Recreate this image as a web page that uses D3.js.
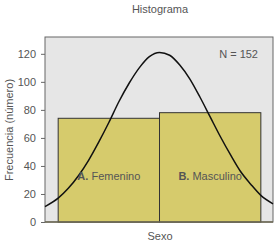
<!DOCTYPE html>
<html>
<head>
<meta charset="utf-8">
<script src="https://cdn.jsdelivr.net/npm/d3@7"></script>
<style>
  body { margin: 0; background: #fff; }
  svg text { font-family: "Liberation Sans Narrow", "Liberation Sans", Arial, sans-serif; fill: #555; }
</style>
</head>
<body>
<div id="chart"></div>
<script>
// Bars: frequency by sex
const categories = ['Femenino', 'Masculino'];
const prefixes = ['A.', 'B.'];
const codes = [1, 2];
const counts = [74, 78];
const totalN = 152;

// Normal curve (x = code, y = frequency)
const curveX = [0.37, 0.5, 0.6, 0.7, 0.8, 0.9, 1.0, 1.1, 1.2, 1.3, 1.4, 1.5, 1.6, 1.7, 1.8, 1.9, 2.0, 2.1, 2.2, 2.3, 2.4, 2.5, 2.62];
const curveY = [11, 17, 24, 33, 44, 57, 71, 86, 99, 110, 118, 121, 119, 112, 102, 89, 75, 61, 48, 36, 27, 19, 13];

const yTicks = [0, 20, 40, 60, 80, 100, 120];

const width = 275, height = 246;
const margin = { top: 37, right: 2, bottom: 24, left: 45 };

const svg = d3.select('#chart').append('svg')
  .attr('width', width)
  .attr('height', height);

const x = d3.scaleLinear().domain([0.37, 2.62]).range([margin.left, width - margin.right]);
const y = d3.scaleLinear().domain([0, 132]).range([height - margin.bottom, margin.top]);

// plot background
svg.append('rect')
  .attr('x', margin.left)
  .attr('y', margin.top)
  .attr('width', width - margin.right - margin.left)
  .attr('height', height - margin.bottom - margin.top)
  .attr('fill', '#e6e6e6')
  .attr('stroke', '#666')
  .attr('stroke-width', 1);

// bars
svg.selectAll('rect.bar')
  .data(codes)
  .join('rect')
  .attr('class', 'bar')
  .attr('x', d => x(d - 0.5))
  .attr('y', (d, i) => y(counts[i]))
  .attr('width', d => x(d + 0.5) - x(d - 0.5))
  .attr('height', (d, i) => y(0) - y(counts[i]))
  .attr('fill', '#d6cb6c')
  .attr('stroke', '#333')
  .attr('stroke-width', 1);

// normal curve
const line = d3.line()
  .x(d => x(d[0]))
  .y(d => y(d[1]))
  .curve(d3.curveMonotoneX);

svg.append('path')
  .datum(d3.zip(curveX, curveY))
  .attr('d', line)
  .attr('fill', 'none')
  .attr('stroke', '#111')
  .attr('stroke-width', 1.5);

// bottom line
svg.append('line')
  .attr('x1', margin.left)
  .attr('x2', width - margin.right)
  .attr('y1', y(0))
  .attr('y2', y(0))
  .attr('stroke', '#6e6a55')
  .attr('stroke-width', 1.5);

// y axis
const yAxis = svg.append('g')
  .attr('transform', `translate(${margin.left},0)`)
  .call(d3.axisLeft(y).tickValues(yTicks).tickSize(4).tickPadding(5));
yAxis.select('.domain').remove();
yAxis.selectAll('line').attr('stroke', '#666');
yAxis.selectAll('text').attr('font-size', 11).attr('fill', '#555');

// category labels inside bars
const labels = svg.selectAll('text.cat')
  .data(codes)
  .join('text')
  .attr('class', 'cat')
  .attr('x', d => x(d))
  .attr('y', 180)
  .attr('text-anchor', 'middle')
  .attr('font-size', 11);
labels.append('tspan').attr('font-weight', 'bold').text((d, i) => prefixes[i] + ' ');
labels.append('tspan').text((d, i) => categories[i]);

// N label
svg.append('text')
  .attr('x', 258)
  .attr('y', 58)
  .attr('text-anchor', 'end')
  .attr('font-size', 11)
  .text('N = ' + totalN);

// title
svg.append('text')
  .attr('x', 160)
  .attr('y', 13)
  .attr('text-anchor', 'middle')
  .attr('font-size', 11)
  .text('Histograma');

// x title
svg.append('text')
  .attr('x', 160)
  .attr('y', 240)
  .attr('text-anchor', 'middle')
  .attr('font-size', 11)
  .text('Sexo');

// y title
svg.append('text')
  .attr('transform', 'translate(13,130) rotate(-90)')
  .attr('text-anchor', 'middle')
  .attr('font-size', 11)
  .text('Frecuencia (número)');
</script>
</body>
</html>
